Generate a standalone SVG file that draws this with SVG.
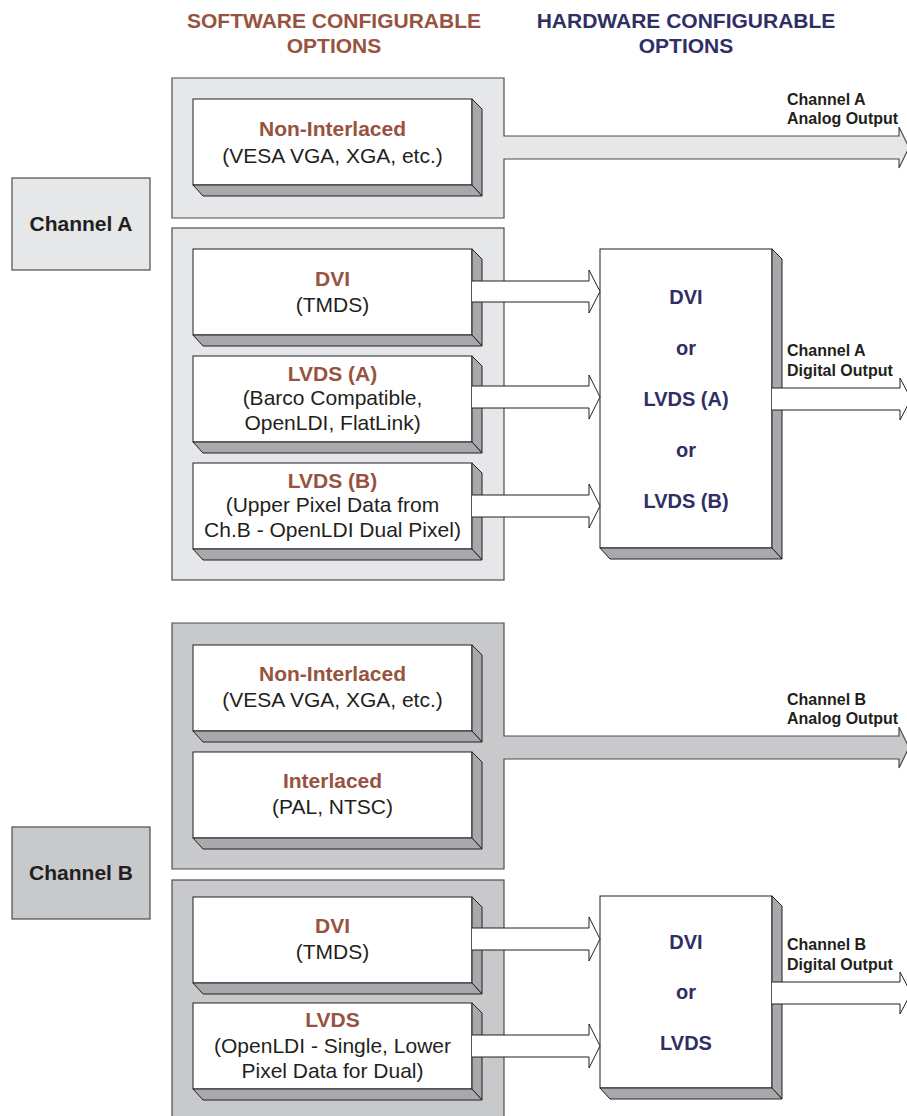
<svg xmlns="http://www.w3.org/2000/svg" width="907" height="1116" viewBox="0 0 907 1116">
<style>
text{font-family:"Liberation Sans",Arial,sans-serif}
.hdr{font-size:21px;font-weight:bold;text-anchor:middle}
.sw{fill:#985240}
.hw{fill:#2f2f66}
.pA{fill:#e6e7e8;stroke:#4d4d4f;stroke-width:1.2}
.pB{fill:#c8c9cb;stroke:#4d4d4f;stroke-width:1.2}
.box{fill:#fff;stroke:#231f20;stroke-width:1}
.face{fill:#a7a9ac;stroke:#231f20;stroke-width:1;stroke-linejoin:round}
.arr{fill:#fff;stroke:#231f20;stroke-width:1}
.t{font-size:21px;font-weight:bold;fill:#985240;text-anchor:middle}
.s{font-size:21px;fill:#231f20;text-anchor:middle}
.h{font-size:20px;font-weight:bold;fill:#2f2f66;text-anchor:middle}
.ch{font-size:21px;font-weight:bold;fill:#231f20;text-anchor:middle}
.out{font-size:16px;font-weight:bold;fill:#231f20}
</style>
<defs>
<g id="sbox">
<rect class="box" x="0" y="0" width="279" height="86"/>
<polygon class="face" points="279,0 289,10 289,97 279,86"/>
<polygon class="face" points="0,86 279,86 289,97 10,97"/>
</g>
</defs>

<g id="headers">
<text class="hdr sw" x="334" y="28">SOFTWARE CONFIGURABLE</text>
<text class="hdr sw" x="334" y="53">OPTIONS</text>
<text class="hdr hw" x="686" y="28">HARDWARE CONFIGURABLE</text>
<text class="hdr hw" x="686" y="53">OPTIONS</text>
</g>

<g id="channelA">
<rect class="pA" x="12" y="178" width="138" height="92"/>
<text class="ch" x="81" y="231">Channel A</text>
</g>
<g id="channelB">
<rect class="pB" x="12" y="827" width="138" height="92"/>
<text class="ch" x="81" y="880">Channel B</text>
</g>

<g id="panelA-analog">
<path class="pA" d="M172,78 H504 V136 H899 V127 L909,147.5 L899,168 V159 H504 V218 H172 Z"/>
</g>
<g id="panelA-digital">
<rect class="pA" x="172" y="228" width="332" height="352"/>
</g>
<g id="panelB-analog">
<path class="pB" d="M172,623 H504 V736 H899 V727 L909,747.5 L899,768 V759 H504 V869 H172 Z"/>
</g>
<g id="panelB-digital">
<rect class="pB" x="172" y="880" width="332" height="245"/>
</g>

<g id="A-noninterlaced">
<use href="#sbox" x="193" y="99"/>
<text class="t" x="332.5" y="136">Non-Interlaced</text>
<text class="s" x="332.5" y="163">(VESA VGA, XGA, etc.)</text>
</g>
<g id="A-dvi">
<use href="#sbox" x="193" y="249"/>
<text class="t" x="332.5" y="286">DVI</text>
<text class="s" x="332.5" y="312">(TMDS)</text>
</g>
<g id="A-lvdsa">
<use href="#sbox" x="193" y="356"/>
<text class="t" x="332.5" y="381">LVDS (A)</text>
<text class="s" x="332.5" y="405">(Barco Compatible,</text>
<text class="s" x="332.5" y="430">OpenLDI, FlatLink)</text>
</g>
<g id="A-lvdsb">
<use href="#sbox" x="193" y="463"/>
<text class="t" x="332.5" y="488">LVDS (B)</text>
<text class="s" x="332.5" y="512">(Upper Pixel Data from</text>
<text class="s" x="332.5" y="537">Ch.B - OpenLDI Dual Pixel)</text>
</g>

<g id="B-noninterlaced">
<use href="#sbox" x="193" y="645"/>
<text class="t" x="332.5" y="681">Non-Interlaced</text>
<text class="s" x="332.5" y="707">(VESA VGA, XGA, etc.)</text>
</g>
<g id="B-interlaced">
<use href="#sbox" x="193" y="752"/>
<text class="t" x="332.5" y="788">Interlaced</text>
<text class="s" x="332.5" y="814">(PAL, NTSC)</text>
</g>
<g id="B-dvi">
<use href="#sbox" x="193" y="897"/>
<text class="t" x="332.5" y="933">DVI</text>
<text class="s" x="332.5" y="959">(TMDS)</text>
</g>
<g id="B-lvds">
<use href="#sbox" x="193" y="1003"/>
<text class="t" x="332.5" y="1027">LVDS</text>
<text class="s" x="332.5" y="1053">(OpenLDI - Single, Lower</text>
<text class="s" x="332.5" y="1078">Pixel Data for Dual)</text>
</g>

<g id="A-hw">
<rect class="box" x="600" y="249" width="172" height="299"/>
<polygon class="face" points="772,249 782,259 782,559 772,548"/>
<polygon class="face" points="600,548 772,548 782,559 610,559"/>
<text class="h" x="686" y="304">DVI</text>
<text class="h" x="686" y="355">or</text>
<text class="h" x="686" y="406">LVDS (A)</text>
<text class="h" x="686" y="457">or</text>
<text class="h" x="686" y="508">LVDS (B)</text>
</g>
<g id="B-hw">
<rect class="box" x="600" y="896" width="172" height="192"/>
<polygon class="face" points="772,896 782,906 782,1099 772,1088"/>
<polygon class="face" points="600,1088 772,1088 782,1099 610,1099"/>
<text class="h" x="686" y="949">DVI</text>
<text class="h" x="686" y="999">or</text>
<text class="h" x="686" y="1050">LVDS</text>
</g>

<g id="connectors">
<path class="arr" d="M472,281 H589 V270 L600,291.5 L589,313 V302 H472"/>
<path class="arr" d="M472,386 H589 V375 L600,397 L589,419 V408 H472"/>
<path class="arr" d="M472,495 H589 V484 L600,506 L589,528 V517 H472"/>
<path class="arr" d="M772,388 H900 V378 L911,399 L900,420 V410 H772"/>
<path class="arr" d="M472,928 H589 V917 L600,939 L589,961 V950 H472"/>
<path class="arr" d="M472,1035 H589 V1024 L600,1046 L589,1068 V1057 H472"/>
<path class="arr" d="M772,982 H900 V972 L911,993 L900,1014 V1004 H772"/>
</g>

<g id="labels">
<text class="out" x="787" y="105">Channel A</text>
<text class="out" x="787" y="124">Analog Output</text>
<text class="out" x="787" y="356">Channel A</text>
<text class="out" x="787" y="376">Digital Output</text>
<text class="out" x="787" y="705">Channel B</text>
<text class="out" x="787" y="724">Analog Output</text>
<text class="out" x="787" y="950">Channel B</text>
<text class="out" x="787" y="970">Digital Output</text>
</g>
</svg>
